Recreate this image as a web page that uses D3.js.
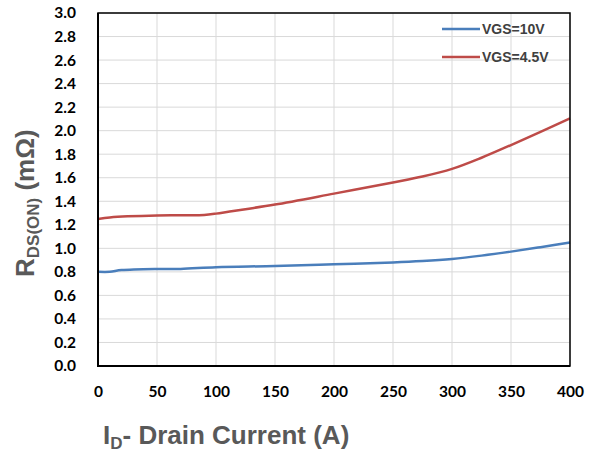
<!DOCTYPE html>
<html><head><meta charset="utf-8">
<script src="https://cdn.jsdelivr.net/npm/d3@7"></script>
<style>body{margin:0;background:#fff}</style>
</head><body><svg id="c" width="591" height="456"></svg>
<script>
const xTicks = [0, 50, 100, 150, 200, 250, 300, 350, 400];
const yTicks = [0.0, 0.2, 0.4, 0.6, 0.8, 1.0, 1.2, 1.4, 1.6, 1.8, 2.0, 2.2, 2.4, 2.6, 2.8, 3.0];
const seriesNames = ["VGS=10V", "VGS=4.5V"];
const currentVgs10 = [0, 10, 20, 50, 70, 100, 150, 200, 250, 275, 300, 325, 350, 375, 400];
const rdsVgs10 = [0.80, 0.80, 0.815, 0.825, 0.825, 0.84, 0.85, 0.865, 0.88, 0.892, 0.91, 0.938, 0.972, 1.01, 1.05];
const currentVgs45 = [0, 10, 25, 50, 75, 90, 100, 125, 150, 200, 250, 275, 300, 325, 350, 375, 400];
const rdsVgs45 = [1.25, 1.262, 1.272, 1.28, 1.281, 1.284, 1.295, 1.333, 1.372, 1.465, 1.56, 1.61, 1.675, 1.77, 1.878, 1.99, 2.105];
const colors = ["#4a7ebb", "#be4b48"];

const svg = d3.select("#c");
const L = 98, R = 570, T = 13, B = 366;
const x = d3.scaleLinear().domain([0, 400]).range([L, R]);
const y = d3.scaleLinear().domain([0, 3]).range([B, T]);

// grid
svg.append("g").selectAll("line").data(xTicks).join("line")
  .attr("x1", d => x(d)).attr("x2", d => x(d)).attr("y1", T).attr("y2", B)
  .attr("stroke", "#d9d9d9").attr("stroke-width", 1);
svg.append("g").selectAll("line").data(yTicks).join("line")
  .attr("x1", L).attr("x2", R).attr("y1", d => y(d)).attr("y2", d => y(d))
  .attr("stroke", "#d9d9d9").attr("stroke-width", 1);

// axes via d3
const xAxis = svg.append("g").attr("transform", `translate(0,${B})`)
  .call(d3.axisBottom(x).tickValues(xTicks).tickSize(0).tickPadding(20).tickFormat(d3.format("d")));
const yAxis = svg.append("g").attr("transform", `translate(${L},0)`)
  .call(d3.axisLeft(y).tickValues(yTicks).tickSize(0).tickPadding(22).tickFormat(d3.format(".1f")));
[xAxis, yAxis].forEach(a => {
  a.select(".domain").remove();
  a.selectAll("text").attr("font-family", "Lato, sans-serif").attr("font-weight", "bold")
    .attr("font-size", 15.5).attr("fill", "#000");
});

// lines
const line = d3.line().x(d => x(d[0])).y(d => y(d[1])).curve(d3.curveCatmullRom.alpha(0.5));
const data = [d3.zip(currentVgs10, rdsVgs10), d3.zip(currentVgs45, rdsVgs45)];
svg.append("g").selectAll("path").data(data).join("path")
  .attr("d", line).attr("fill", "none")
  .attr("stroke", (d, i) => colors[i]).attr("stroke-width", 2.5);

// frame
svg.append("rect").attr("x", L).attr("y", T).attr("width", R - L).attr("height", B - T)
  .attr("fill", "none").attr("stroke", "#000").attr("stroke-width", 1.5);
svg.append("line").attr("x1", L).attr("x2", L).attr("y1", T).attr("y2", B + 1)
  .attr("stroke", "#000").attr("stroke-width", 2);
svg.append("line").attr("x1", L - 1).attr("x2", R).attr("y1", B).attr("y2", B)
  .attr("stroke", "#000").attr("stroke-width", 2);

// legend
const lg = svg.append("g").selectAll("g").data(seriesNames).join("g")
  .attr("transform", (d, i) => `translate(0,${29 + i * 28})`);
lg.append("line").attr("x1", 442).attr("x2", 480).attr("y1", 0).attr("y2", 0)
  .attr("stroke", (d, i) => colors[i]).attr("stroke-width", 2.5);
lg.append("text").attr("x", 482).attr("y", 5).text(d => d)
  .attr("font-family", "Liberation Sans, Arial, sans-serif").attr("font-weight", "bold")
  .attr("font-size", 14).attr("fill", "#404040");

// axis titles
const xt = svg.append("text").attr("x", 103).attr("y", 444)
  .attr("font-family", "Liberation Sans, Arial, sans-serif").attr("font-weight", "bold")
  .attr("font-size", 26).attr("fill", "#595959");
xt.append("tspan").text("I");
xt.append("tspan").attr("font-size", 17).attr("dy", 5).text("D");
xt.append("tspan").attr("dy", -5).text("- Drain Current (A)");

const yt = svg.append("text").attr("transform", "translate(34,277) rotate(-90)")
  .attr("font-family", "Liberation Sans, Arial, sans-serif").attr("font-weight", "bold")
  .attr("font-size", 26).attr("fill", "#595959");
yt.append("tspan").text("R");
yt.append("tspan").attr("font-size", 17).attr("dy", 5).text("DS(ON)");
yt.append("tspan").attr("dy", -5).text(" (mΩ)");
</script></body></html>
